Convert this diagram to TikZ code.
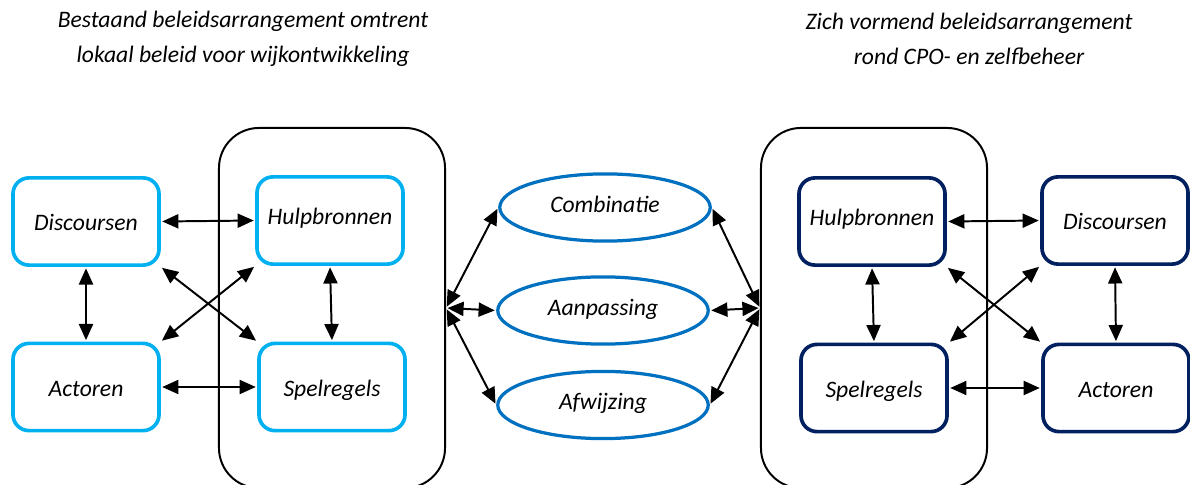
\documentclass[tikz,border=0pt]{standalone}
\usepackage{fontspec}
\setmainfont{Carlito}
\usetikzlibrary{arrows.meta,shapes.geometric}
\definecolor{boxlight}{HTML}{00B0F0}
\definecolor{boxnavy}{HTML}{002060}
\definecolor{ovalblue}{HTML}{0070C0}

\begin{document}
\begin{tikzpicture}[
  x=0.025cm, y=-0.025cm,
  font=\fontsize{16.8}{24.8}\selectfont\itshape,
  framebox/.style={draw=black, line width=1.4pt, rounded corners=1cm, minimum width=5.65cm, minimum height=9cm},
  itembox/.style={rounded corners=0.4cm, line width=2.6pt, minimum width=3.65cm, minimum height=2.18cm, text height=13.5pt, text depth=0pt},
  leftbox/.style={itembox, draw=boxlight},
  rightbox/.style={itembox, draw=boxnavy},
  highbox/.style={text depth=8.5pt},
  oval/.style={ellipse, draw=ovalblue, line width=2.3pt, minimum width=5.26cm, minimum height=1.68cm, text height=11pt, text depth=4pt},
  link/.style={{Triangle[length=11.5pt,width=10pt]}-{Triangle[length=11.5pt,width=10pt]}, line width=1.4pt, shorten <=1pt, shorten >=1pt}
]

\clip (0,0) rectangle (1190,485);

% Titles above both arrangements
\node[align=center] (ltitle) at (243,39) {Bestaand beleidsarrangement omtrent\\lokaal beleid voor wijkontwikkeling};
\node[align=center] (rtitle) at (969,39) {Zich vormend beleidsarrangement\\rond CPO- en zelfbeheer};

% Large frames
\node[framebox] (lframe) at (332,308) {};
\node[framebox] (rframe) at (874,308) {};

% Existing arrangement (left)
\node[leftbox] (ldisc) at (86,221.5) {Discoursen};
\node[leftbox] (lact) at (86,387) {Actoren};
\node[leftbox, highbox] (lhulp) at (330,220.5) {Hulpbronnen};
\node[leftbox] (lspel) at (332,387) {Spelregels};

% Emerging arrangement (right)
\node[rightbox, highbox] (rhulp) at (872,221.5) {Hulpbronnen};
\node[rightbox] (rspel) at (874,388) {Spelregels};
\node[rightbox] (rdisc) at (1115,220.5) {Discoursen};
\node[rightbox] (ract) at (1116,388) {Actoren};

% Outcomes in the middle
\node[oval] (comb) at (605,207.5) {Combinatie};
\node[oval] (aanp) at (603,310.5) {Aanpassing};
\node[oval] (afw) at (603,405) {Afwijzing};

% Links, left
\draw[link] (ldisc.east) -- (lhulp.west);
\draw[link] (lact.east) -- (lspel.west);
\draw[link] (ldisc.south) -- (lact.north);
\draw[link] (lhulp.south) -- (lspel.north);
\draw[link] (ldisc.south east) -- (lspel.north west);
\draw[link] (lhulp.south west) -- (lact.north east);

% Links, right
\draw[link] (rhulp.east) -- (rdisc.west);
\draw[link] (rspel.east) -- (ract.west);
\draw[link] (rhulp.south) -- (rspel.north);
\draw[link] (rdisc.south) -- (ract.north);
\draw[link] (rhulp.south east) -- (ract.north west);
\draw[link] (rdisc.south west) -- (rspel.north east);

% Links to the outcomes
\draw[link] (lframe.east) -- (comb.west);
\draw[link] (lframe.east) -- (aanp.west);
\draw[link] (lframe.east) -- (afw.west);
\draw[link] (comb.east) -- (rframe.west);
\draw[link] (aanp.east) -- (rframe.west);
\draw[link] (afw.east) -- (rframe.west);

\end{tikzpicture}
\end{document}
